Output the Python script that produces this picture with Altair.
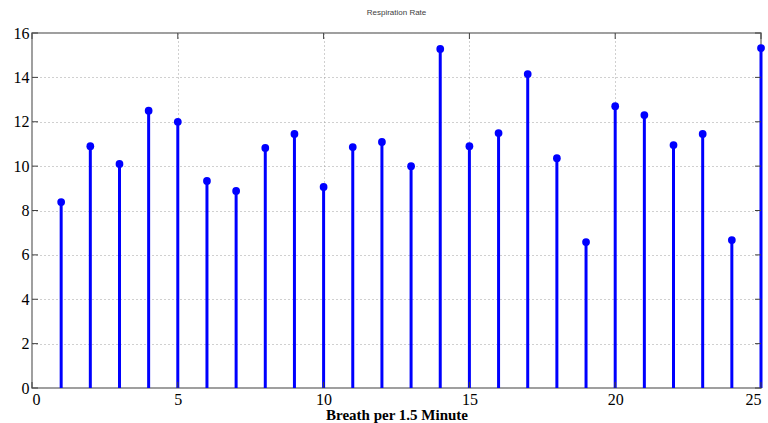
import altair as alt
import pandas as pd

# Breath counts per 1.5-minute window
windows = list(range(1, 26))
rates = [8.38, 10.9, 10.1, 12.5, 12.0, 9.33, 8.88, 10.82, 11.45, 9.06,
         10.86, 11.09, 10.0, 15.28, 10.9, 11.49, 14.15, 10.36, 6.58, 12.7,
         12.3, 10.95, 11.45, 6.67, 15.32]
x_ticks = [0, 5, 10, 15, 20, 25]
y_ticks = [0, 2, 4, 6, 8, 10, 12, 14, 16]

W, H = 729, 355
BLUE = "#0000ff"
SERIF = "Liberation Serif"

df = pd.DataFrame({"x": windows, "y": rates})
xt = pd.DataFrame({"t": x_ticks})
yt = pd.DataFrame({"t": y_ticks})

xs = alt.Scale(domain=[0, 25], nice=False, zero=False)
ys = alt.Scale(domain=[0, 16], nice=False)

x_axis = alt.Axis(values=x_ticks, format="d", title="Breath per 1.5 Minute",
                  titleFont=SERIF, titleFontSize=15, titleFontWeight="bold",
                  titleColor="#000", titlePadding=0)
y_axis = alt.Axis(values=y_ticks, format="d", title=None)

base = alt.Chart(df)

stems = base.mark_rule(color=BLUE, strokeWidth=3).encode(
    x=alt.X("x:Q", scale=xs, axis=x_axis),
    y=alt.Y("y:Q", scale=ys, axis=y_axis),
    y2=alt.datum(0),
)
heads = base.mark_circle(color=BLUE, size=60, opacity=1).encode(
    x=alt.X("x:Q", scale=xs, axis=x_axis),
    y=alt.Y("y:Q", scale=ys, axis=y_axis),
)

# short inward ticks on all four sides of the frame
tick_style = dict(color="#404040", strokeWidth=1)
tick_len = 6
bottom_ticks = alt.Chart(xt).mark_rule(**tick_style).encode(
    x=alt.X("t:Q", scale=xs, axis=x_axis), y=alt.value(H), y2=alt.value(H - tick_len))
top_ticks = alt.Chart(xt).mark_rule(**tick_style).encode(
    x=alt.X("t:Q", scale=xs, axis=x_axis), y=alt.value(0), y2=alt.value(tick_len))
left_ticks = alt.Chart(yt).mark_rule(**tick_style).encode(
    y=alt.Y("t:Q", scale=ys, axis=y_axis), x=alt.value(0), x2=alt.value(tick_len))
right_ticks = alt.Chart(yt).mark_rule(**tick_style).encode(
    y=alt.Y("t:Q", scale=ys, axis=y_axis), x=alt.value(W), x2=alt.value(W - tick_len))

chart = alt.layer(
    stems, heads, bottom_ticks, top_ticks, left_ticks, right_ticks
).properties(
    width=W, height=H,
    background="white",
    title=alt.TitleParams("Respiration Rate", font="Liberation Sans",
                          fontSize=8, fontWeight="normal", color="#404040",
                          offset=8),
    padding={"left": 32, "top": 33, "right": 7, "bottom": 35},
    autosize=alt.AutoSizeParams(type="none"),
).configure_axis(
    grid=True, gridDash=[1, 3], gridColor="#a0a0a0", gridOpacity=1,
    ticks=False, domain=False,
    labelFont=SERIF, labelFontSize=16, labelColor="#000", labelPadding=3,
).configure_view(
    stroke="#808080", strokeWidth=1.5
)

chart.save("out.html", embed_options={"renderer": "svg", "actions": False})
